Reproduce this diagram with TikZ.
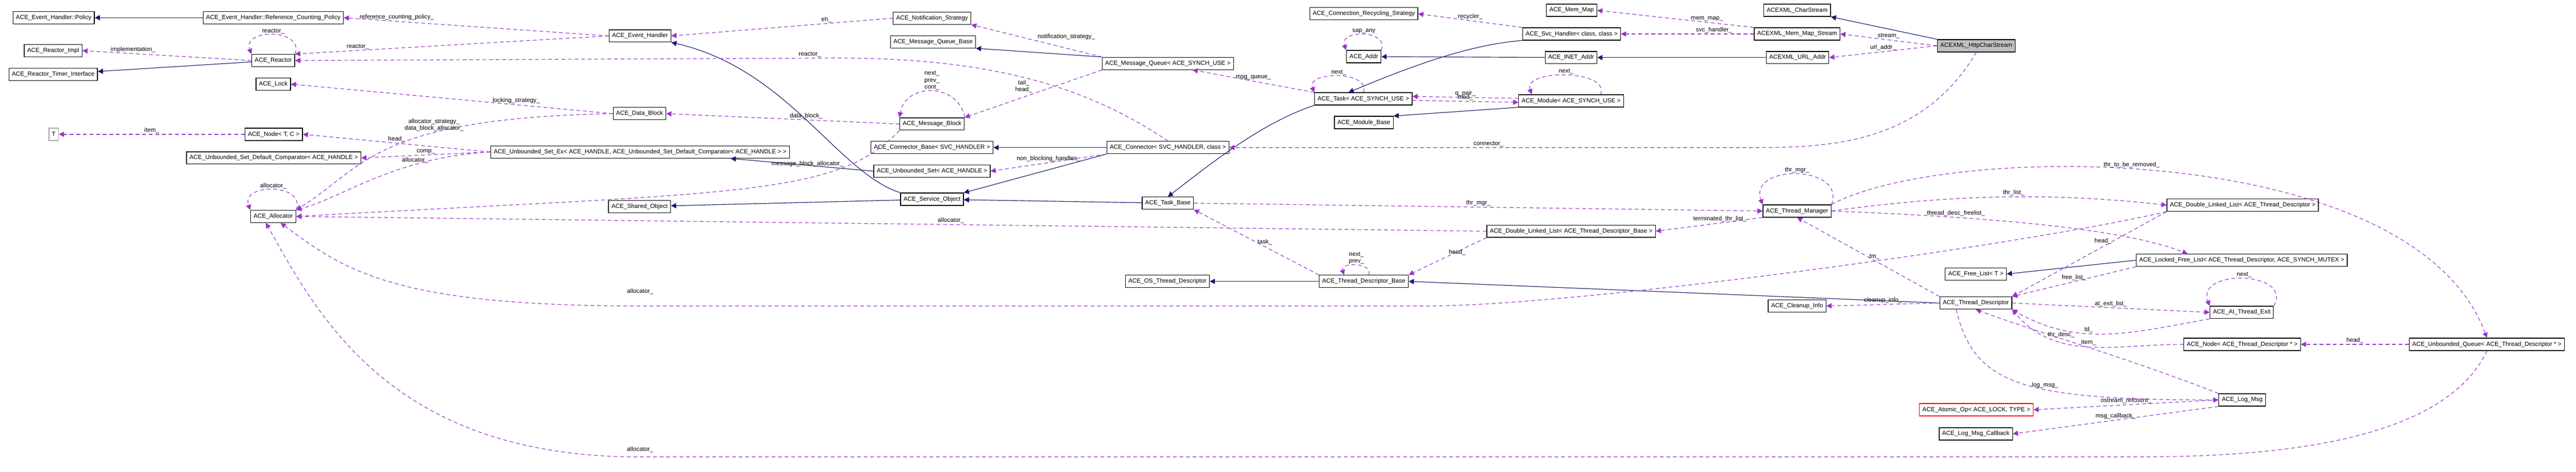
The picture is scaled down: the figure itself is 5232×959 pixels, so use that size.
\documentclass[tikz,border=0pt]{standalone}
\usepackage{fontspec}
\setmainfont{Liberation Sans}
\usetikzlibrary{arrows.meta}
\definecolor{inhcol}{HTML}{191970}
\definecolor{usecol}{HTML}{9A32CD}
\tikzset{
  cls/.style={draw=black, line width=0.4pt, minimum height=0.25cm, inner xsep=0.06cm, inner ysep=0pt, font=\fontsize{3.5}{4}\selectfont},
  root/.style={cls, fill=black!25},
  tmpl/.style={cls, draw=black!35},
  bad/.style={cls, draw=red},
  inh/.style={draw=inhcol, line width=0.35pt, -{Triangle[length=3pt,width=3pt]}},
  use/.style={draw=usecol, line width=0.35pt, dash pattern=on 2.2pt off 1.6pt, -{Triangle[length=3pt,width=3pt]}},
  lbl/.style={font=\fontsize{3.5}{4}\selectfont, inner sep=0.5pt, align=center, text=black}
}
\begin{document}
\begin{tikzpicture}[x=0.01cm,y=0.01cm]
\useasboundingbox (0,0) rectangle (5232,-959);
% classes, left part
\node[cls] (policy) at (109,-36) {ACE\_Event\_Handler::Policy};
\node[cls] (refcnt) at (555,-36) {ACE\_Event\_Handler::Reference\_Counting\_Policy};
\node[cls] (rimpl) at (108,-103) {ACE\_Reactor\_Impl};
\node[cls] (timerif) at (108,-151) {ACE\_Reactor\_Timer\_Interface};
\node[cls] (reactor) at (555,-123) {ACE\_Reactor};
\node[cls] (lock) at (555,-171) {ACE\_Lock};
\node[tmpl] (tt) at (109,-273) {T};
\node[cls] (nodetc) at (556,-273) {ACE\_Node< T, C >};
\node[cls] (comp) at (556,-321) {ACE\_Unbounded\_Set\_Default\_Comparator< ACE\_HANDLE >};
\node[cls] (alloc) at (555,-440) {ACE\_Allocator};
\node[cls] (evh) at (1300,-73) {ACE\_Event\_Handler};
\node[cls] (db) at (1299,-231) {ACE\_Data\_Block};
\node[cls] (usetex) at (1300,-309) {ACE\_Unbounded\_Set\_Ex< ACE\_HANDLE, ACE\_Unbounded\_Set\_Default\_Comparator< ACE\_HANDLE > >};
\node[cls] (shared) at (1299,-420) {ACE\_Shared\_Object};
% middle part
\node[cls] (notif) at (1893,-37) {ACE\_Notification\_Strategy};
\node[cls] (mqbase) at (1895,-85) {ACE\_Message\_Queue\_Base};
\node[cls] (mb) at (1893,-252) {ACE\_Message\_Block};
\node[cls] (connbase) at (1893,-300) {ACE\_Connector\_Base< SVC\_HANDLER >};
\node[cls] (uset) at (1893,-348) {ACE\_Unbounded\_Set< ACE\_HANDLE >};
\node[cls] (svcobj) at (1893,-405) {ACE\_Service\_Object};
\node[cls] (mq) at (2372,-129) {ACE\_Message\_Queue< ACE\_SYNCH\_USE >};
\node[cls] (conn) at (2372,-300) {ACE\_Connector< SVC\_HANDLER, class >};
\node[cls] (taskbase) at (2372,-413) {ACE\_Task\_Base};
\node[cls] (ostd) at (2371,-572) {ACE\_OS\_Thread\_Descriptor};
\node[cls] (crs) at (2770,-28) {ACE\_Connection\_Recycling\_Strategy};
\node[cls] (addr) at (2770,-115) {ACE\_Addr};
\node[cls] (task) at (2769,-201) {ACE\_Task< ACE\_SYNCH\_USE >};
\node[cls] (modbase) at (2770,-249) {ACE\_Module\_Base};
\node[cls] (tdbase) at (2770,-572) {ACE\_Thread\_Descriptor\_Base};
\node[cls] (memmap) at (3192,-21) {ACE\_Mem\_Map};
\node[cls] (svch) at (3192,-69) {ACE\_Svc\_Handler< class, class >};
\node[cls] (inet) at (3191,-117) {ACE\_INET\_Addr};
\node[cls] (module) at (3191,-205) {ACE\_Module< ACE\_SYNCH\_USE >};
\node[cls] (dlla) at (3191,-470) {ACE\_Double\_Linked\_List< ACE\_Thread\_Descriptor\_Base >};
% right part
\node[cls] (charstream) at (3650,-21) {ACEXML\_CharStream};
\node[cls] (mms) at (3650,-69) {ACEXML\_Mem\_Map\_Stream};
\node[cls] (urladdr) at (3651,-117) {ACEXML\_URL\_Addr};
\node[root] (http) at (4014,-93) {ACEXML\_HttpCharStream};
\node[cls] (tm) at (3650,-429) {ACE\_Thread\_Manager};
\node[cls] (cleanup) at (3650,-622) {ACE\_Cleanup\_Info};
\node[cls] (dllb) at (4555,-417) {ACE\_Double\_Linked\_List< ACE\_Thread\_Descriptor >};
\node[cls] (lfl) at (4553,-529) {ACE\_Locked\_Free\_List< ACE\_Thread\_Descriptor, ACE\_SYNCH\_MUTEX >};
\node[cls] (freelist) at (4013,-557) {ACE\_Free\_List< T >};
\node[cls] (tdesc) at (4013,-616) {ACE\_Thread\_Descriptor};
\node[cls] (ate) at (4553,-635) {ACE\_At\_Thread\_Exit};
\node[cls] (nodetd) at (4554,-700) {ACE\_Node< ACE\_Thread\_Descriptor * >};
\node[cls] (uq) at (5051,-700) {ACE\_Unbounded\_Queue< ACE\_Thread\_Descriptor * >};
\node[cls] (logmsg) at (4554,-813) {ACE\_Log\_Msg};
\node[bad] (atomic) at (4014,-833) {ACE\_Atomic\_Op< ACE\_LOCK, TYPE >};
\node[cls] (logcb) at (4013,-882) {ACE\_Log\_Msg\_Callback};
% inheritance
\draw[inh] (refcnt) -- (policy);
\draw[inh] (reactor) -- (timerif);
\draw[inh] (svcobj.north west) .. controls (1700,-350) and (1600,-140) .. (evh.south east);
\draw[inh] (svcobj) -- (shared);
\draw[inh] (mq.north west) -- (mqbase.south east);
\draw[inh] (conn) -- (connbase);
\draw[inh] (conn.south west) -- (svcobj.north east);
\draw[inh] (taskbase) -- (svcobj);
\draw[inh] (task.south west) .. controls (2560,-250) and (2450,-340) .. (taskbase.north);
\draw[inh] (svch.south west) .. controls (3000,-90) and (2900,-120) .. ([xshift=-0.3cm]task.north);
\draw[inh] (inet) -- (addr);
\draw[inh] (urladdr) -- (inet);
\draw[inh] (module.south west) -- (modbase.north east);
\draw[inh] (http.north west) -- (charstream.south east);
\draw[inh] (uset.west) -- ([xshift=-1.2cm]usetex.south east);
\draw[inh] (lfl.west) -- (freelist.east);
\draw[inh] (tdesc.west) -- (tdbase.east);
\draw[inh] (tdbase) -- (ostd);
% usage
\draw[use] (evh.west) -- node[lbl,pos=0.8,above]{reference\_counting\_policy\_} (refcnt.east);
\draw[use] (evh.west) -- node[lbl,pos=0.8,above]{reactor\_} (reactor.north east);
\draw[use] (reactor.north east) to[out=70,in=110,looseness=1.6] node[lbl,above]{reactor\_} (reactor.north west);
\draw[use] (reactor.west) -- node[lbl,pos=0.7,above]{implementation\_} (rimpl.east);
\draw[use] (conn.north) .. controls (2200,-170) and (2000,-118) .. (1700,-118) -- node[lbl,pos=0.05,above]{reactor\_} (reactor.east);
\draw[use] (notif.west) -- node[lbl,pos=0.3,above]{eh\_} (evh.east);
\draw[use] (db.west) -- node[lbl,pos=0.3,above]{locking\_strategy\_} (lock.east);
\draw[use] (db.west) .. controls (760,-240) and (740,-340) .. node[lbl,pos=0.35,above]{allocator\_strategy\_\\data\_block\_allocator\_} (alloc.north east);
\draw[use] (mb.west) -- node[lbl,pos=0.4,above]{data\_block\_} (db.east);
\draw[use] (mb.south west) .. controls (1700,-400) and (1500,-390) .. node[lbl,pos=0.35,above=6pt]{message\_block\_allocator\_} (alloc.east);
\draw[use] (mb.north east) to[out=100,in=80,looseness=1.4] node[lbl,above]{next\_\\prev\_\\cont\_} (mb.north west);
\draw[use] (mq.south west) -- node[lbl,pos=0.5,above left]{tail\_\\head\_} (mb.north east);
\draw[use] (mq.north west) -- node[lbl,pos=0.5,above right]{notification\_strategy\_} (notif.south east);
\draw[use] (task.north west) -- node[lbl,pos=0.5,above]{msg\_queue\_} ([xshift=0.5cm]mq.south);
\draw[use] (usetex.west) -- node[lbl,pos=0.5,above]{head\_} (nodetc.east);
\draw[use] (usetex.west) -- node[lbl,pos=0.5,above]{comp\_} (comp.east);
\draw[use] (usetex.west) .. controls (800,-320) and (700,-400) .. node[lbl,pos=0.3,above]{allocator\_} (alloc.north east);
\draw[use] (nodetc.west) -- node[lbl,pos=0.5,above]{item\_} (tt.east);
\draw[use] (alloc.north east) to[out=70,in=110,looseness=1.6] node[lbl,above]{allocator\_} (alloc.north west);
\draw[use] (conn.south west) -- node[lbl,pos=0.5,above]{non\_blocking\_handles\_} (uset.east);
\draw[use] (svch.north west) -- node[lbl,pos=0.5,above]{recycler\_} (crs.east);
\draw[use] (addr.north east) to[out=70,in=110,looseness=1.6] node[lbl,above]{sap\_any} (addr.north west);
\draw[use] (task.north) to[out=70,in=110,looseness=1.2] node[lbl,above]{next\_} (task.north west);
\draw[use] ([yshift=0.05cm]module.west) -- node[lbl,pos=0.5,above]{q\_pair\_} ([yshift=0.05cm]task.east);
\draw[use] ([yshift=-0.03cm]task.east) -- node[lbl,pos=0.5,above]{mod\_} ([yshift=-0.03cm]module.west);
\draw[use] ([xshift=0.6cm]module.north) to[out=70,in=110,looseness=1.0] node[lbl,above]{next\_} ([xshift=-0.8cm]module.north);
\draw[use] (http.south) .. controls (3900,-300) and (3700,-300) .. (3550,-300) -- node[lbl,pos=0.5,above]{connector\_} (conn.east);
\draw[use] (mms.west) -- node[lbl,pos=0.3,above]{svc\_handler\_} (svch.east);
\draw[use] (mms.north west) -- node[lbl,pos=0.3,above]{mem\_map\_} (memmap.east);
\draw[use] (http.west) -- node[lbl,pos=0.5,above]{stream\_} (mms.east);
\draw[use] (http.west) -- node[lbl,pos=0.5,above]{url\_addr\_} (urladdr.east);
\draw[use] (taskbase.east) -- node[lbl,pos=0.5,above]{thr\_mgr\_} (tm.west);
\draw[use] (tm.north east) to[out=70,in=110,looseness=1.6] node[lbl,above]{thr\_mgr\_} (tm.north west);
\draw[use] (tm.south west) -- node[lbl,pos=0.4,above]{terminated\_thr\_list\_} (dlla.east);
\draw[use] (tm.east) .. controls (4000,-390) and (4200,-395) .. node[lbl,pos=0.5,above]{thr\_list\_} (dllb.west);
\draw[use] (tm.east) .. controls (4000,-440) and (4300,-460) .. node[lbl,pos=0.3,above]{thread\_desc\_freelist\_} ([xshift=-1.1cm]lfl.north);
\draw[use] (tm.north east) .. controls (3950,-290) and (4900,-280) .. node[lbl,pos=0.45,above]{thr\_to\_be\_removed\_} (uq.north);
\draw[use] (dlla.west) -- node[lbl,pos=0.45,above]{allocator\_} (alloc.east);
\draw[use] (dlla.south west) -- node[lbl,pos=0.5,above right]{head\_} (tdbase.north east);
\draw[use] ([xshift=0.1cm]tdbase.north) to[out=70,in=110,looseness=1.4] node[lbl,above]{next\_\\prev\_} ([xshift=-0.4cm]tdbase.north);
\draw[use] (tdbase.north west) -- node[lbl,pos=0.5,right]{task\_} (taskbase.south east);
\draw[use] (tdesc.north west) -- node[lbl,pos=0.5,right]{tm\_} (tm.south);
\draw[use] (dllb.south west) .. controls (4100,-500) and (3200,-622) .. (2900,-622) -- (1300,-622) .. controls (800,-622) and (700,-550) .. node[lbl,pos=0.0,above=6pt]{allocator\_} ([xshift=0.15cm]alloc.south);
\draw[use] (uq.south) .. controls (4950,-929) and (4500,-929) .. (4300,-929) -- (1300,-929) .. controls (800,-929) and (650,-650) .. node[lbl,pos=0.0,above=2pt]{allocator\_} ([xshift=-0.15cm]alloc.south);
\draw[use] (dllb.south west) -- node[lbl,pos=0.35,left]{head\_} (tdesc.north east);
\draw[use] (lfl.south west) -- node[lbl,pos=0.5,above]{free\_list\_} (tdesc.north east);
\draw[use] (tdesc.east) -- node[lbl,pos=0.5,above]{at\_exit\_list\_} (ate.west);
\draw[use] (ate.south west) to[out=190,in=-30] node[lbl,pos=0.6,above]{td\_} (tdesc.south east);
\draw[use] (ate.north east) to[out=60,in=110,looseness=1.6] node[lbl,above]{next\_} (ate.north west);
\draw[use] (nodetd.west) to[out=180,in=-50] node[lbl,pos=0.5,above]{item\_} (tdesc.south east);
\draw[use] (uq.west) -- node[lbl,pos=0.5,above]{head\_} (nodetd.east);
\draw[use] (logmsg.north west) .. controls (4300,-720) and (4150,-680) .. node[lbl,pos=0.6,above]{thr\_desc\_} (tdesc.south);
\draw[use] ([xshift=-0.4cm]tdesc.south) .. controls (4010,-780) and (4100,-813) .. node[lbl,pos=0.6,above]{log\_msg\_} (logmsg.west);
\draw[use] (logmsg.west) -- node[lbl,pos=0.5,above]{ostream\_refcount\_} (atomic.east);
\draw[use] (logmsg.south west) -- node[lbl,pos=0.5,above]{msg\_callback\_} (logcb.east);
\draw[use] (tdesc.west) -- node[lbl,pos=0.5,above]{cleanup\_info\_} (cleanup.east);
\end{tikzpicture}
\end{document}
